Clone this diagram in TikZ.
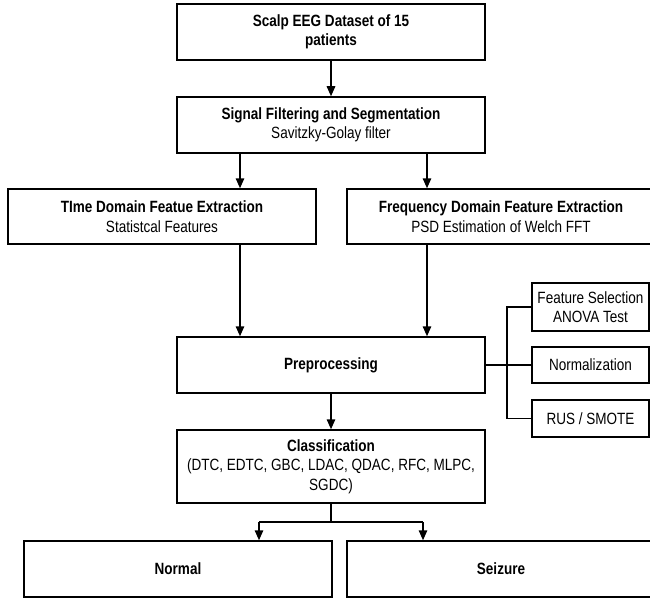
\documentclass[tikz,border=0pt]{standalone}
\usepackage{fontspec}
\setmainfont{Liberation Sans}[FakeStretch=0.83]
\usetikzlibrary{arrows.meta}
\begin{document}
\begin{tikzpicture}[x=1pt,y=-1pt,
  box/.style={draw=black,line width=1.5pt,fill=white,inner sep=0pt,align=center,
    minimum width=308pt,font=\fontsize{16.3}{19.5}\selectfont},
  sidebox/.style={box,minimum width=117pt},
  line/.style={draw=black,line width=1.5pt},
  arr/.style={line,-{Triangle[length=10pt,width=8.5pt]}}]
\clip (0,0) rectangle (650,599);
\fill[white] (0,0) rectangle (650,599);
\node[box,minimum height=56pt] (b1) at (331,32) {\textbf{Scalp EEG Dataset of 15}\\\textbf{patients}};
\node[box,minimum height=56pt] (b2) at (331,125) {\textbf{Signal Filtering and Segmentation}\\Savitzky-Golay filter};
\node[box,minimum height=55pt] (b3) at (162,216.5) {\textbf{TIme Domain Featue Extraction}\\Statistcal Features};
\node[box,minimum height=55pt] (b4) at (501,216.5) {\textbf{Frequency Domain Feature Extraction}\\PSD Estimation of Welch FFT};
\node[box,minimum height=56pt] (pre) at (331,365) {\textbf{Preprocessing}};
\node[box,minimum height=73pt] (cls) at (331,466.5) {\textbf{Classification}\\(DTC, EDTC, GBC, LDAC, QDAC, RFC, MLPC,\\SGDC)};
\node[box,minimum height=56pt] (nor) at (178,569) {\textbf{Normal}};
\node[box,minimum height=56pt] (sei) at (501,569) {\textbf{Seizure}};
\node[sidebox,minimum height=48pt] (fs) at (590.5,307) {Feature Selection\\ANOVA Test};
\node[sidebox,minimum height=36pt] (nm) at (590.5,365) {Normalization};
\node[sidebox,minimum height=37pt] (rus) at (590.5,418.5) {RUS / SMOTE};
% helper coordinates
\coordinate (xa) at (240,0);
\coordinate (xb) at (427,0);
\coordinate (xs) at (507,0);
\coordinate (xn) at (259,0);
\coordinate (xz) at (423,0);
\coordinate (br) at (331,522);
% connectors
\draw[arr] (b1.south) -- (b2.north);
\draw[arr] (b2.south -| xa) -- (b3.north -| xa);
\draw[arr] (b2.south -| xb) -- (b4.north -| xb);
\draw[arr] (b3.south -| xa) -- (pre.north -| xa);
\draw[arr] (b4.south -| xb) -- (pre.north -| xb);
\draw[arr] (pre.south) -- (cls.north);
\draw[line] (pre.east) -- (nm.west);
\draw[line] (fs.west) -| (xs |- rus.west) -- (rus.west);
\draw[line] (cls.south) -- (br);
\draw[line] (br -| xn) -- (br -| xz);
\draw[arr] (br -| xn) -- (nor.north -| xn);
\draw[arr] (br -| xz) -- (sei.north -| xz);
\end{tikzpicture}
\end{document}
